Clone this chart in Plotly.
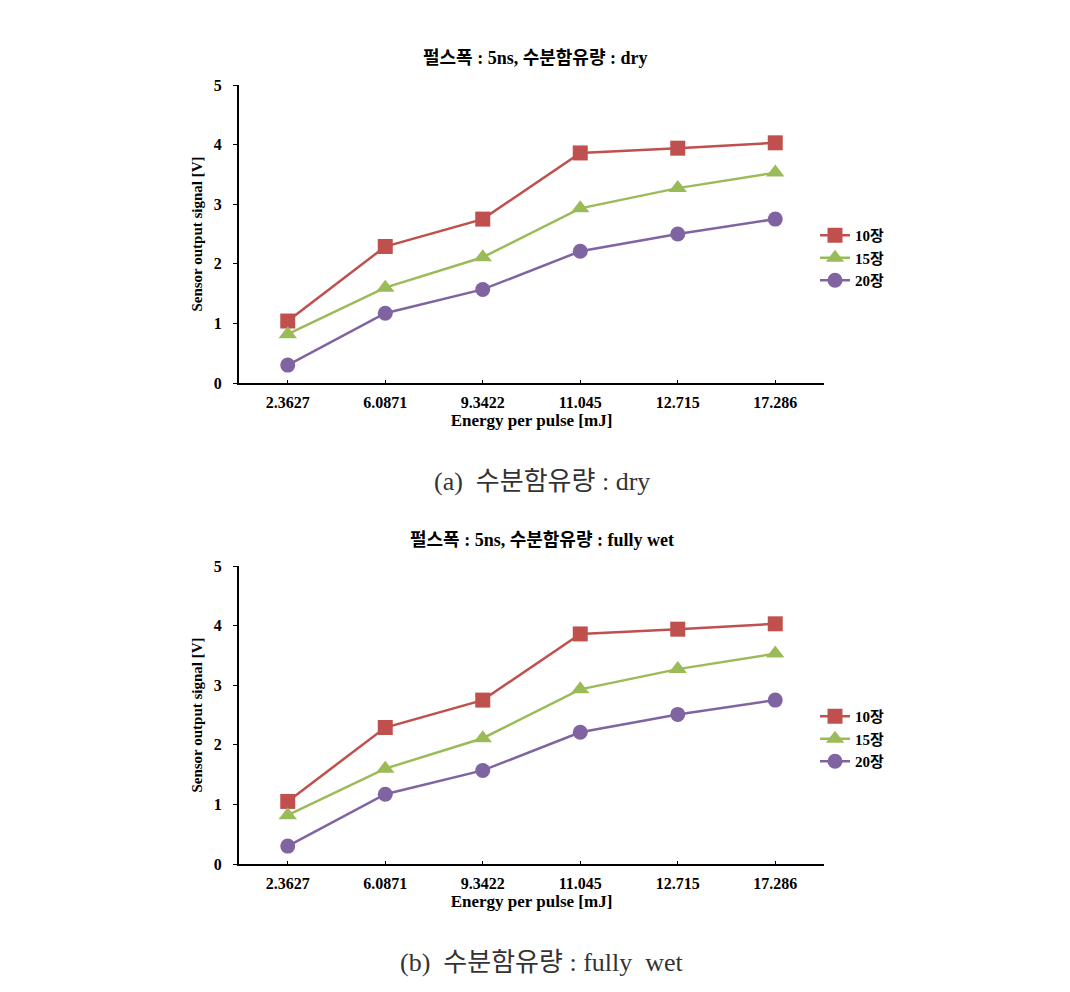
import plotly.graph_objects as go

categories = ["2.3627", "6.0871", "9.3422", "11.045", "12.715", "17.286"]
series_names = ["10장", "15장", "20장"]
dry_10 = [1.04, 2.29, 2.75, 3.86, 3.94, 4.03]
dry_15 = [0.82, 1.60, 2.11, 2.93, 3.27, 3.53]
dry_20 = [0.30, 1.17, 1.57, 2.21, 2.50, 2.75]
wet_10 = [1.05, 2.29, 2.75, 3.86, 3.94, 4.03]
wet_15 = [0.82, 1.60, 2.11, 2.93, 3.27, 3.53]
wet_20 = [0.30, 1.17, 1.57, 2.21, 2.51, 2.75]

titles = ["펄스폭 : 5ns, 수분함유량 : dry", "펄스폭 : 5ns, 수분함유량 : fully wet"]
captions = ["(a)  수분함유량 : dry", "(b)  수분함유량 : fully  wet"]
x_title = "Energy per pulse [mJ]"
y_title = "Sensor output signal [V]"

colors = ["#C0504D", "#9BBB59", "#8064A2"]
symbols = ["square", "triangle-up", "circle"]

W, H = 1070, 992
OX, OY = 6, 8  # page offset of the plot inside the browser
SERIF = "Liberation Serif, Times New Roman, Noto Sans CJK KR"
CAP_FONT = "Liberation Serif, Noto Sans CJK KR"


def px(x):
    return (x - OX) / W


def py(y):
    return 1 - (y - OY) / H


fig = go.Figure()

panels = [
    dict(data=[dry_10, dry_15, dry_20], top=85, bottom=383, xa="x", ya="y", legend="legend"),
    dict(data=[wet_10, wet_15, wet_20], top=566, bottom=864, xa="x2", ya="y2", legend="legend2"),
]

for p in panels:
    for name, vals, c, s in zip(series_names, p["data"], colors, symbols):
        fig.add_trace(go.Scatter(
            x=categories, y=vals, name="<b>%s</b>" % name, mode="lines+markers",
            line=dict(color=c, width=2.5),
            marker=dict(symbol=s, size=15 if s != "triangle-up" else 16, color=c),
            xaxis=p["xa"], yaxis=p["ya"], legend=p["legend"],
        ))

axis_common = dict(
    showgrid=False, zeroline=False, showline=True, linecolor="black", linewidth=2,
    tickfont=dict(family=SERIF, size=16, color="black"), automargin=False,
)

for i, p in enumerate(panels):
    sfx = "" if i == 0 else "2"
    yd = [py(p["bottom"]), py(p["top"])]
    fig.update_layout(**{
        f"xaxis{sfx}": dict(
            axis_common, domain=[px(237), px(822)], type="category", range=[-0.5, 5.5],
            ticks="inside", ticklen=3, tickwidth=1, tickcolor="black",
            ticklabelstandoff=4,
            anchor=f"y{sfx}", tickvals=categories, ticktext=["<b>%s</b>" % c for c in categories],
            title=dict(text="<b>%s</b>" % x_title, font=dict(family=SERIF, size=17, color="black"), standoff=4),
        ),
        f"yaxis{sfx}": dict(
            axis_common, domain=yd, range=[0, 5], dtick=1,
            ticks="outside", ticklen=4, tickwidth=1, tickcolor="black",
            anchor=f"x{sfx}", tickvals=[0, 1, 2, 3, 4, 5], ticktext=["<b>%d</b>" % v for v in range(6)],
            ticklabelstandoff=8,
            title=dict(text="<b>%s</b>" % y_title, font=dict(family=SERIF, size=15, color="black"), standoff=8),
        ),
    })

annotations = []
title_pos = [(533, 58), (540, 540)]
cap_pos = [(540, 481), (540, 962)]
for i in range(2):
    annotations.append(dict(
        text="<b>%s</b>" % titles[i], x=px(title_pos[i][0]), y=py(title_pos[i][1]),
        xref="paper", yref="paper", showarrow=False, xanchor="center", yanchor="middle",
        font=dict(family=SERIF, size=18, color="black"),
    ))
    annotations.append(dict(
        text=captions[i], x=px(cap_pos[i][0]), y=py(cap_pos[i][1]),
        xref="paper", yref="paper", showarrow=False, xanchor="center", yanchor="middle",
        font=dict(family=CAP_FONT, size=26, color="#333333"),
    ))

legend_common = dict(
    font=dict(family=SERIF, size=15, color="black"), bgcolor="rgba(0,0,0,0)",
    xanchor="left", yanchor="top", itemwidth=30, tracegroupgap=0,
)

fig.update_layout(
    width=W, height=H, margin=dict(l=0, r=0, t=0, b=0),
    paper_bgcolor="white", plot_bgcolor="white",
    annotations=annotations,
    legend=dict(legend_common, x=px(813), y=py(219)),
    legend2=dict(legend_common, x=px(813), y=py(700)),
)

fig.write_html("out.html")
